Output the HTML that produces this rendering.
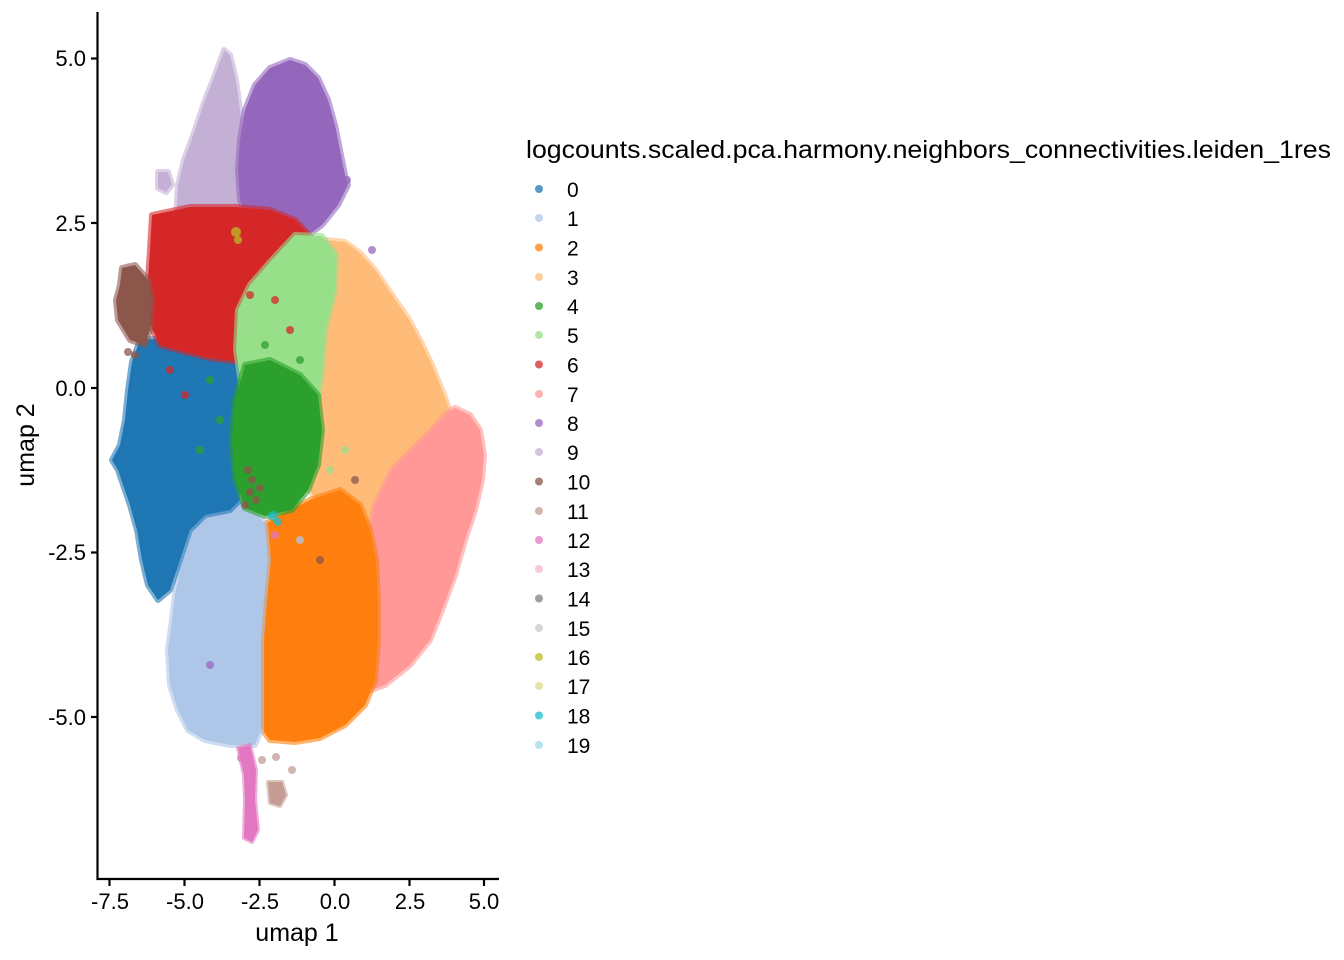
<!DOCTYPE html>
<html><head><meta charset="utf-8"><style>
html,body{margin:0;padding:0;background:#fff;}
svg{display:block;font-family:"Liberation Sans",Arial,sans-serif;}
</style></head><body>
<svg width="1344" height="960" viewBox="0 0 1344 960" xmlns="http://www.w3.org/2000/svg">
<rect width="1344" height="960" fill="#fff"/>
<g stroke-linejoin="round" stroke-width="6" stroke-opacity="0.6">
<!-- 3 light orange -->
<polygon fill="#ffbb78" stroke="#ffbb78" points="305,250 325,240 345,242 360,253 375,270 392,295 408,318 420,340 432,365 444,395 450,412 440,440 420,460 400,480 388,505 378,540 350,540 325,520 310,490 302,450 303,410 306,370 305,330 303,290"/>
<!-- 7 pink -->
<polygon fill="#ff9896" stroke="#ff9896" points="455,408 470,415 480,430 484,455 482,480 475,510 465,540 455,575 442,610 430,640 410,665 385,685 366,692 360,670 360,630 362,590 366,545 375,505 392,470 412,450 430,432 445,415"/>
<!-- 2 orange -->
<polygon fill="#ff7f0e" stroke="#ff7f0e" points="255,530 280,515 310,500 340,490 360,505 370,530 376,560 378,600 378,640 375,680 365,705 345,725 320,738 295,742 270,740 255,720 252,680 252,640 252,600 254,560"/>
<!-- 1 light blue -->
<polygon fill="#aec7e8" stroke="#aec7e8" points="200,505 230,500 252,505 265,525 268,560 264,600 261,640 261,690 261,730 255,745 230,745 205,740 188,730 178,710 170,685 168,650 172,620 175,595 180,570 190,540"/>
<!-- 0 blue -->
<polygon fill="#1f77b4" stroke="#1f77b4" points="140,340 170,338 200,342 230,345 245,365 242,420 238,470 240,500 230,510 205,515 190,530 180,560 170,590 158,600 148,585 142,560 137,530 130,505 118,470 112,460 120,445 125,420 128,390 132,362"/>
<!-- 9 lavender -->
<polygon fill="#c5b0d5" stroke="#c5b0d5" points="224,50 230,55 236,80 240,110 246,140 244,180 240,220 215,222 190,222 176,218 178,185 184,160 195,130 205,100 215,75"/>
<polygon fill="#c5b0d5" stroke="#c5b0d5" points="158,172 168,172 172,185 166,192 158,188"/>
<!-- 8 purple -->
<polygon fill="#9467bd" stroke="#9467bd" points="290,60 305,65 318,78 328,100 335,125 340,150 345,175 348,185 338,205 322,225 302,240 275,242 250,228 240,200 238,170 240,140 245,110 255,85 270,68"/>
<!-- 6 red -->
<polygon fill="#d62728" stroke="#d62728" points="152,215 190,207 235,207 270,210 295,220 312,238 300,255 275,270 250,292 240,320 240,362 210,358 185,352 160,345 148,320 148,280 150,250"/>
<!-- 5 light green -->
<polygon fill="#98df8a" stroke="#98df8a" points="295,235 322,236 336,255 335,290 325,330 322,370 318,400 300,405 270,395 242,390 236,350 238,310 250,285 270,262"/>
<!-- 4 green -->
<polygon fill="#2ca02c" stroke="#2ca02c" points="245,365 270,360 300,375 318,395 322,430 318,465 308,490 292,510 265,516 245,508 235,478 232,440 235,400"/>
<!-- 10 brown -->
<polygon fill="#8c564b" stroke="#8c564b" points="122,268 135,265 148,280 152,300 150,330 145,345 130,340 118,320 116,300 120,285"/>
<!-- 12 pink tail -->
<polygon fill="#e377c2" stroke="#e377c2" stroke-width="4" points="238,748 250,745 256,770 255,800 258,830 252,842 244,838 245,800 244,775"/>
<!-- 11 -->
<polygon fill="#c49c94" stroke="#c49c94" stroke-width="4" points="268,782 282,782 286,795 280,806 270,803"/>
</g>
<g fill-opacity="0.75">
<circle cx="372" cy="250" r="4" fill="#9467bd"/>
<circle cx="347" cy="180" r="4" fill="#9467bd"/>
<circle cx="262" cy="760" r="4" fill="#c49c94"/>
<circle cx="276" cy="757" r="4" fill="#c49c94"/>
<circle cx="292" cy="770" r="4" fill="#c49c94"/>
<circle cx="241" cy="758" r="4" fill="#e377c2"/>
<circle cx="273" cy="516" r="5" fill="#17becf"/>
<circle cx="278" cy="522" r="4" fill="#17becf"/>
<circle cx="236" cy="232" r="5" fill="#bcbd22"/>
<circle cx="238" cy="240" r="4" fill="#bcbd22"/>
<circle cx="250" cy="295" r="4" fill="#d62728"/>
<circle cx="275" cy="300" r="4" fill="#d62728"/>
<circle cx="290" cy="330" r="4" fill="#d62728"/>
<circle cx="265" cy="345" r="4" fill="#2ca02c"/>
<circle cx="300" cy="360" r="4" fill="#2ca02c"/>
<circle cx="210" cy="380" r="4" fill="#2ca02c"/>
<circle cx="220" cy="420" r="4" fill="#2ca02c"/>
<circle cx="200" cy="450" r="4" fill="#2ca02c"/>
<circle cx="185" cy="395" r="4" fill="#d62728"/>
<circle cx="170" cy="370" r="4" fill="#d62728"/>
<circle cx="330" cy="470" r="4" fill="#98df8a"/>
<circle cx="345" cy="450" r="4" fill="#98df8a"/>
<circle cx="355" cy="480" r="4" fill="#8c564b"/>
<circle cx="300" cy="540" r="4" fill="#aec7e8"/>
<circle cx="320" cy="560" r="4" fill="#8c564b"/>
<circle cx="210" cy="665" r="4" fill="#9467bd"/>
<circle cx="275" cy="535" r="4" fill="#e377c2"/>
<circle cx="135" cy="355" r="4" fill="#8c564b"/>
<circle cx="128" cy="352" r="4" fill="#8c564b"/>
<circle cx="248" cy="470" r="4" fill="#8c564b"/>
<circle cx="252" cy="480" r="4" fill="#8c564b"/>
<circle cx="250" cy="492" r="4" fill="#8c564b"/>
<circle cx="256" cy="500" r="4" fill="#8c564b"/>
<circle cx="245" cy="505" r="4" fill="#8c564b"/>
<circle cx="260" cy="488" r="4" fill="#8c564b"/>
</g>
<!-- axes -->
<g stroke="#000" stroke-width="2.2" fill="none">
<line x1="97.5" y1="12" x2="97.5" y2="880"/>
<line x1="96.5" y1="879" x2="499" y2="879"/>
<line x1="91" y1="58.5" x2="97" y2="58.5"/>
<line x1="91" y1="223" x2="97" y2="223"/>
<line x1="91" y1="388" x2="97" y2="388"/>
<line x1="91" y1="552.5" x2="97" y2="552.5"/>
<line x1="91" y1="717" x2="97" y2="717"/>
<line x1="109.5" y1="880" x2="109.5" y2="886"/>
<line x1="184.5" y1="880" x2="184.5" y2="886"/>
<line x1="259.5" y1="880" x2="259.5" y2="886"/>
<line x1="334.5" y1="880" x2="334.5" y2="886"/>
<line x1="409.5" y1="880" x2="409.5" y2="886"/>
<line x1="484" y1="880" x2="484" y2="886"/>
</g>
<g font-size="22" fill="#000" text-anchor="end">
<text x="86" y="66">5.0</text>
<text x="86" y="231">2.5</text>
<text x="86" y="396">0.0</text>
<text x="86" y="560">-2.5</text>
<text x="86" y="725">-5.0</text>
</g>
<g font-size="22" fill="#000" text-anchor="middle">
<text x="110" y="909">-7.5</text>
<text x="185" y="909">-5.0</text>
<text x="260" y="909">-2.5</text>
<text x="335" y="909">0.0</text>
<text x="410" y="909">2.5</text>
<text x="484" y="909">5.0</text>
</g>
<text x="297" y="941" font-size="25" text-anchor="middle" fill="#000">umap 1</text>
<text transform="translate(34,445) rotate(-90)" font-size="25" text-anchor="middle" fill="#000">umap 2</text>
<!-- legend -->
<text x="526" y="158" font-size="25" fill="#000" textLength="805" lengthAdjust="spacingAndGlyphs">logcounts.scaled.pca.harmony.neighbors_connectivities.leiden_1res</text>
<g fill-opacity="0.75">
<circle cx="539" cy="189" r="4" fill="#1f77b4"/>
<circle cx="539" cy="218" r="4" fill="#aec7e8"/>
<circle cx="539" cy="247.5" r="4" fill="#ff7f0e"/>
<circle cx="539" cy="277" r="4" fill="#ffbb78"/>
<circle cx="539" cy="306" r="4" fill="#2ca02c"/>
<circle cx="539" cy="335" r="4" fill="#98df8a"/>
<circle cx="539" cy="364.5" r="4" fill="#d62728"/>
<circle cx="539" cy="394" r="4" fill="#ff9896"/>
<circle cx="539" cy="423" r="4" fill="#9467bd"/>
<circle cx="539" cy="452" r="4" fill="#c5b0d5"/>
<circle cx="539" cy="481.5" r="4" fill="#8c564b"/>
<circle cx="539" cy="511" r="4" fill="#c49c94"/>
<circle cx="539" cy="540" r="4" fill="#e377c2"/>
<circle cx="539" cy="569" r="4" fill="#f7b6d2"/>
<circle cx="539" cy="598.5" r="4" fill="#7f7f7f"/>
<circle cx="539" cy="628" r="4" fill="#c7c7c7"/>
<circle cx="539" cy="657" r="4" fill="#bcbd22"/>
<circle cx="539" cy="686" r="4" fill="#dbdb8d"/>
<circle cx="539" cy="715.5" r="4" fill="#17becf"/>
<circle cx="539" cy="745" r="4" fill="#9edae5"/>
</g>
<g font-size="21" fill="#000">
<text x="567" y="197">0</text>
<text x="567" y="226">1</text>
<text x="567" y="255.5">2</text>
<text x="567" y="285">3</text>
<text x="567" y="314">4</text>
<text x="567" y="343">5</text>
<text x="567" y="372.5">6</text>
<text x="567" y="402">7</text>
<text x="567" y="431">8</text>
<text x="567" y="460">9</text>
<text x="567" y="489.5">10</text>
<text x="567" y="519">11</text>
<text x="567" y="548">12</text>
<text x="567" y="577">13</text>
<text x="567" y="606.5">14</text>
<text x="567" y="636">15</text>
<text x="567" y="665">16</text>
<text x="567" y="694">17</text>
<text x="567" y="723.5">18</text>
<text x="567" y="753">19</text>
</g>
</svg>
</body></html>
